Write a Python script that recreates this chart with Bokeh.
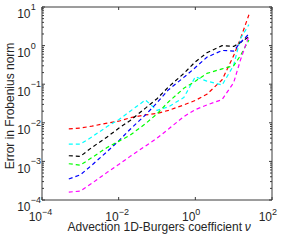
import math
from bokeh.plotting import figure
from bokeh.models import Range1d
from bokeh.core.properties import value
from bokeh.embed import file_html
from bokeh.resources import INLINE

# ---- data ----
nu = [5e-4, 1e-3, 2e-3, 5e-3, 1e-2, 2e-2, 5e-2, 0.1, 0.2, 0.5, 1, 2, 5, 10, 15, 25]
err_red = [7.0e-3, 7.3e-3, 8.2e-3, 9.8e-3, 1.1e-2, 1.35e-2, 1.6e-2, 1.75e-2, 2.1e-2, 2.9e-2, 3.8e-2, 5.5e-2, 0.13, 0.55, 1.5, 6.3]
err_cyan = [2.8e-3, 2.8e-3, 4.3e-3, 8.0e-3, 1.2e-2, 2.0e-2, 3.9e-2, 2.1e-2, 2.6e-2, 4.5e-2, 0.155, 0.12, 0.095, 0.31, 1.5, 3.5]
err_black = [1.4e-3, 1.35e-3, 2.3e-3, 4.3e-3, 7.2e-3, 1.15e-2, 2.4e-2, 4.2e-2, 8.5e-2, 0.19, 0.38, 0.65, 1.0, 0.95, 1.2, 1.7]
err_blue = [3.5e-4, 4.5e-4, 8.0e-4, 1.8e-3, 3.4e-3, 6.8e-3, 1.6e-2, 3.3e-2, 7.2e-2, 0.15, 0.27, 0.5, 0.75, 0.72, 1.2, 2.0]
err_green = [8.7e-4, 8.0e-4, 1.25e-3, 2.3e-3, 3.3e-3, 4.8e-3, 9.5e-3, 1.7e-2, 3.5e-2, 7.8e-2, 0.12, 0.19, 0.25, 0.3, 0.55, 1.4]
err_magenta = [1.6e-4, 1.7e-4, 2.7e-4, 5.2e-4, 8.3e-4, 1.35e-3, 2.5e-3, 4.0e-3, 6.9e-3, 1.45e-2, 2.2e-2, 2.9e-2, 4.0e-2, 0.11, 0.42, 1.8]

series = [
    (err_red, "#ff0000"),
    (err_cyan, "#00ffff"),
    (err_black, "#000000"),
    (err_blue, "#0000ff"),
    (err_green, "#00ff00"),
    (err_magenta, "#ff00ff"),
]

x_min, x_max = 1e-4, 1e2
y_min, y_max = 1e-4, 1e1
x_tick_exps = [-4, -2, 0, 2]
y_tick_exps = [1, 0, -1, -2, -3, -4]
y_minor_mults = [2, 3, 4, 5, 6, 7, 8, 9]
x_label = "Advection 1D-Burgers coefficient"
x_label_sym = "ν"
y_label = "Error in Frobenius norm"

# ---- layout (pixels in the canvas) ----
W, H = 284, 234
BL, BR, BT, BB = 41.5, 271.5, 6.5, 199.5      # axes box edges
PXX = (BR - BL) / (math.log10(x_max) - math.log10(x_min))
PXY = (BB - BT) / (math.log10(y_max) - math.log10(y_min))

AX = "#3a3a3a"
TXT = "#262626"
FONT = "Liberation Sans"
FS_MAIN = "12px"
FS_EXP = "9px"
MAJ, MIN = 3, 2


def x_at(px):
    return 10 ** (math.log10(x_min) + (px - BL) / PXX)


def y_at(py):
    return 10 ** (math.log10(y_max) - (py - BT) / PXY)


p = figure(width=W, height=H, x_axis_type="log", y_axis_type="log",
           x_range=Range1d(x_at(0), x_at(W)), y_range=Range1d(y_at(H), y_at(0)),
           x_axis_location=None, y_axis_location=None,
           output_backend="svg", toolbar_location=None, min_border=0)
p.outline_line_color = None
p.grid.visible = False

# data lines
for ys, col in series:
    p.line(nu, ys, line_color=col, line_width=1.2, line_dash="4 3")

# axes box
p.quad(left=[x_min], right=[x_max], bottom=[y_min], top=[y_max],
       fill_color=None, line_color=AX, line_width=1)

# ticks (inward, on all four sides)
xt = [10.0 ** e for e in x_tick_exps]
yt = [10.0 ** e for e in y_tick_exps]
ymt = [m * 10.0 ** k for k in range(-4, 1) for m in y_minor_mults]
p.ray(x=xt, y=[y_min] * len(xt), length=MAJ, length_units="screen", angle=math.pi / 2, line_color=AX)
p.ray(x=xt, y=[y_max] * len(xt), length=MAJ, length_units="screen", angle=-math.pi / 2, line_color=AX)
p.ray(x=[x_min] * len(yt), y=yt, length=MAJ, length_units="screen", angle=0, line_color=AX)
p.ray(x=[x_max] * len(yt), y=yt, length=MAJ, length_units="screen", angle=math.pi, line_color=AX)
p.ray(x=[x_min] * len(ymt), y=ymt, length=MIN, length_units="screen", angle=0, line_color=AX)
p.ray(x=[x_max] * len(ymt), y=ymt, length=MIN, length_units="screen", angle=math.pi, line_color=AX)


def sup(e):
    return str(e).replace("-", "\u2212")


# x tick labels: "10" + raised exponent
y_base10 = y_at(BB + 16.8)
y_baseexp = y_at(BB + 11.8)
p.text(x=xt, y=[y_base10] * len(xt), text=["10"] * len(xt), x_offset=0,
       text_font=value(FONT), text_font_size=value(FS_MAIN), text_color=TXT,
       text_align="right", text_baseline="alphabetic")
p.text(x=xt, y=[y_baseexp] * len(xt), text=[sup(e) for e in x_tick_exps], x_offset=0,
       text_font=value(FONT), text_font_size=value(FS_EXP), text_color=TXT,
       text_align="left", text_baseline="alphabetic")

# y tick labels
x_split = x_at(BL - 11.5)
p.text(x=[x_split] * len(yt), y=[v * 10 ** (-6.8 / PXY) for v in yt], text=["10"] * len(yt),
       text_font=value(FONT), text_font_size=value(FS_MAIN), text_color=TXT,
       text_align="right", text_baseline="alphabetic")
p.text(x=[x_split] * len(yt), y=yt, text=[sup(e) for e in y_tick_exps], x_offset=0.3,
       text_font=value(FONT), text_font_size=value(FS_EXP), text_color=TXT,
       text_align="left", text_baseline="alphabetic")

# axis titles
y_xlab = y_at(BB + 27.0)
p.text(x=[x_at(BR - 30.0)], y=[y_xlab], text=[x_label],
       text_font=value(FONT), text_font_size=value(FS_MAIN), text_color=TXT,
       text_align="right", text_baseline="alphabetic")
p.text(x=[x_at(BR - 27.3)], y=[y_xlab], text=[x_label_sym],
       text_font=value(FONT), text_font_size=value(FS_MAIN), text_font_style="italic", text_color=TXT,
       text_align="left", text_baseline="alphabetic")
p.text(x=[x_at(9.3)], y=[y_at((BT + BB) / 2 + 2.5)], text=[y_label], angle=math.pi / 2,
       text_font=value(FONT), text_font_size=value(FS_MAIN), text_color=TXT,
       text_align="center", text_baseline="alphabetic")

open("out.html", "w").write(file_html(p, INLINE))
